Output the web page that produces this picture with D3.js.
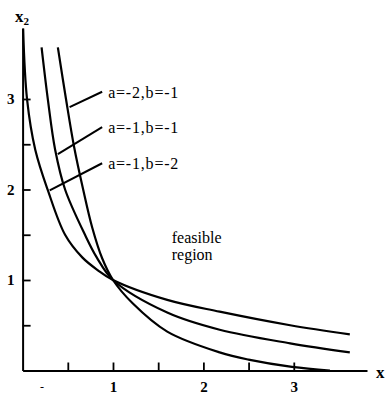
<!DOCTYPE html>
<html>
<head>
<meta charset="utf-8">
<script src="https://cdn.jsdelivr.net/npm/d3@7"></script>
<style>
  body { margin: 0; background: #fff; }
  text { font-family: "Liberation Serif", "Times New Roman", serif; fill: #000; }
</style>
</head>
<body>
<svg id="chart"></svg>
<script>
// curve values (x, x2)
const seriesNames = ["a=-2,b=-1", "a=-1,b=-1", "a=-1,b=-2"];
const xA2B1 = [0.39, 0.48, 0.57, 0.67, 0.77, 0.88, 1.0, 1.22, 1.60, 2.18, 2.5, 2.98, 3.4];
const yA2B1 = [3.57, 3.00, 2.47, 2.00, 1.58, 1.24, 1.0, 0.74, 0.43, 0.20, 0.12, 0.04, 0.0];
const xA1B1 = [0.21, 0.28, 0.36, 0.47, 0.69, 0.82, 1.0, 1.60, 2.18, 2.96, 3.62];
const yA1B1 = [3.57, 2.99, 2.44, 2.0, 1.5, 1.25, 1.0, 0.64, 0.45, 0.30, 0.20];
const xA1B2 = [0.005, 0.05, 0.14, 0.28, 0.47, 0.66, 0.83, 1.0, 1.60, 2.18, 2.96, 3.62];
const yA1B2 = [3.78, 2.99, 2.44, 1.99, 1.5, 1.25, 1.11, 1.0, 0.78, 0.65, 0.50, 0.40];

// annotation leaders: point on the curve -> start of the label
const leaderFromX = [0.52, 0.39, 0.30];
const leaderFromY = [2.91, 2.39, 1.99];
const leaderToX = [0.88, 0.88, 0.88];
const leaderToY = [3.08, 2.69, 2.29];

const xTicks = [0.5, 1, 1.5, 2, 2.5, 3];
const yTicks = [0.5, 1, 1.5, 2, 2.5, 3];
const regionText = ["feasible", "region"];

const width = 389, height = 395;

const svg = d3.select("#chart")
  .attr("width", width)
  .attr("height", height);

// set the ranges
const x = d3.scaleLinear().domain([0, 3.81]).range([22.6, 367]);
const y = d3.scaleLinear().domain([0, 3.78]).range([370.5, 28.4]);

// Add the X Axis (ticks point inward)
const gx = svg.append("g")
  .attr("transform", "translate(0," + y(0) + ")")
  .call(d3.axisBottom(x)
    .tickValues(xTicks)
    .tickSize(-8)
    .tickSizeOuter(0)
    .tickPadding(11)
    .tickFormat(d => Number.isInteger(d) ? d : ""));

// Add the Y Axis
const gy = svg.append("g")
  .attr("transform", "translate(" + x(0) + ",0)")
  .call(d3.axisLeft(y)
    .tickValues(yTicks)
    .tickSize(-8)
    .tickSizeOuter(0)
    .tickPadding(8)
    .tickFormat(d => Number.isInteger(d) ? d : ""));

[gx, gy].forEach(g => {
  g.select(".domain").attr("stroke", "#000").attr("stroke-width", 2);
  g.selectAll(".tick line").attr("stroke", "#000").attr("stroke-width", 1.8);
  g.selectAll(".tick text")
    .style("font-family", "'Liberation Serif', serif")
    .style("font-size", "15px")
    .style("font-weight", "bold")
    .attr("fill", "#000");
});

// axis titles
svg.append("text")
  .attr("x", 15).attr("y", 22)
  .style("font-size", "17px").style("font-weight", "bold")
  .text("x")
  .append("tspan")
  .attr("dy", 3).style("font-size", "11px")
  .text("2");

svg.append("text")
  .attr("x", 376).attr("y", 378)
  .style("font-size", "17px").style("font-weight", "bold")
  .text("x");

svg.append("text")
  .attr("x", 42).attr("y", 391)
  .style("font-size", "12px").attr("text-anchor", "middle")
  .text("-");

// the three curves
const curves = [
  d3.zip(xA2B1, yA2B1),
  d3.zip(xA1B1, yA1B1),
  d3.zip(xA1B2, yA1B2)
];

const line = d3.line()
  .x(d => x(d[0]))
  .y(d => y(d[1]))
  .curve(d3.curveCatmullRom.alpha(0.5));

svg.selectAll("path.curve")
  .data(curves)
  .join("path")
  .attr("class", "curve")
  .attr("fill", "none")
  .attr("stroke", "#000")
  .attr("stroke-width", 2.2)
  .attr("d", line);

// labels with leader lines
seriesNames.forEach((name, i) => {
  svg.append("line")
    .attr("x1", x(leaderFromX[i])).attr("y1", y(leaderFromY[i]))
    .attr("x2", x(leaderToX[i])).attr("y2", y(leaderToY[i]))
    .attr("stroke", "#000")
    .attr("stroke-width", 2);
  svg.append("text")
    .attr("x", x(leaderToX[i]) + 6)
    .attr("y", y(leaderToY[i]) + 6)
    .style("font-size", "16px")
    .style("letter-spacing", "0.8px")
    .text(name);
});

// feasible region note
svg.selectAll("text.region")
  .data(regionText)
  .join("text")
  .attr("class", "region")
  .attr("x", x(1.65))
  .attr("y", (d, i) => y(1.41) + i * 17)
  .style("font-size", "16px")
  .text(d => d);
</script>
</body>
</html>
